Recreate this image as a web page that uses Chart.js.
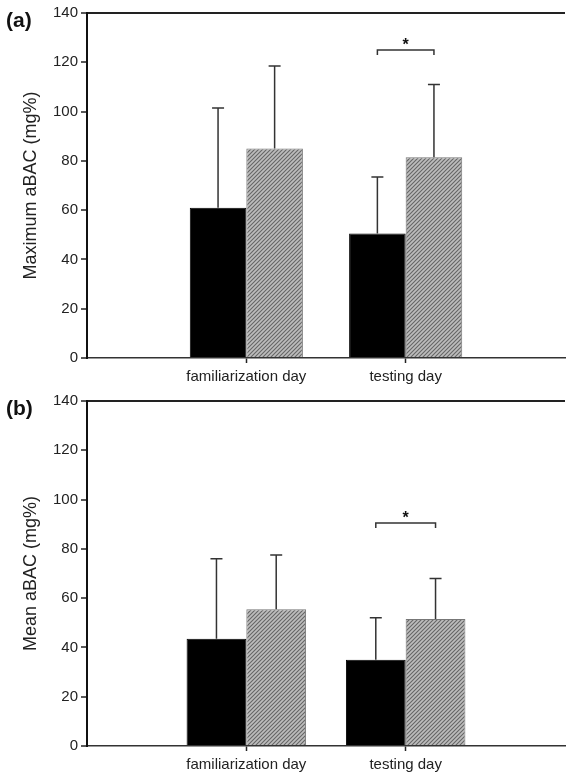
<!DOCTYPE html>
<html>
<head>
<meta charset="utf-8">
<title>aBAC</title>
<script src="https://cdn.jsdelivr.net/npm/chart.js@4.4.0/dist/chart.umd.min.js"></script>
<style>
  body { margin: 0; background: #fff; overflow: hidden; width: 566px; height: 775px; }
  canvas { display: block; }
</style>
</head>
<body>
<canvas id="chartA" width="570" height="389"></canvas>
<canvas id="chartB" width="570" height="386"></canvas>
<script>
// empty slots at both ends keep the two days in the middle of the axis
const categories = ['', 'familiarization day', 'testing day', ''];

// (a) maximum aBAC, mean and SD
const maxBlack = [null, 61, 50.5, null];
const maxBlackSd = [null, 40.5, 23, null];
const maxHatched = [null, 85, 81.5, null];
const maxHatchedSd = [null, 33.5, 29.5, null];
const maxBracket = 125;

// (b) mean aBAC, mean and SD
const meanBlack = [null, 43.5, 35, null];
const meanBlackSd = [null, 32.5, 17, null];
const meanHatched = [null, 55.5, 51.5, null];
const meanHatchedSd = [null, 22, 16.5, null];
const meanBracket = 90.5;

const FONT = "'Liberation Sans', Arial, sans-serif";

// grey diagonal hatch for the second group
function makeHatch() {
  const c = document.createElement('canvas');
  c.width = 4; c.height = 4;
  const g = c.getContext('2d');
  g.fillStyle = '#bdbdbd';
  g.fillRect(0, 0, 4, 4);
  g.strokeStyle = '#666';
  g.lineWidth = 1.1;
  g.beginPath();
  g.moveTo(0, 4); g.lineTo(4, 0);
  g.moveTo(-1, 1); g.lineTo(1, -1);
  g.moveTo(3, 5); g.lineTo(5, 3);
  g.stroke();
  return g.createPattern(c, 'repeat');
}
const hatch = makeHatch();

// one-sided SD whiskers above each bar
const errorBars = {
  id: 'errorBars',
  afterDatasetsDraw(chart) {
    const ctx = chart.ctx;
    const y = chart.scales.y;
    ctx.save();
    ctx.strokeStyle = '#333';
    ctx.lineWidth = 1.5;
    chart.data.datasets.forEach((ds, di) => {
      chart.getDatasetMeta(di).data.forEach((bar, i) => {
        if (ds.data[i] == null || ds.sd[i] == null) return;
        const top = y.getPixelForValue(ds.data[i] + ds.sd[i]);
        ctx.beginPath();
        ctx.moveTo(bar.x, bar.y);
        ctx.lineTo(bar.x, top);
        ctx.moveTo(bar.x - 6, top);
        ctx.lineTo(bar.x + 6, top);
        ctx.stroke();
      });
    });
    ctx.restore();
  }
};

// significance bracket between the two bars of one day, plus panel letter
const extras = {
  id: 'extras',
  afterDraw(chart, args, opts) {
    const ctx = chart.ctx;
    const x0 = chart.getDatasetMeta(0).data[opts.index].x;
    const x1 = chart.getDatasetMeta(1).data[opts.index].x;
    const yb = chart.scales.y.getPixelForValue(opts.value);
    ctx.save();
    ctx.strokeStyle = '#333';
    ctx.lineWidth = 1.5;
    ctx.beginPath();
    ctx.moveTo(x0, yb + 5);
    ctx.lineTo(x0, yb);
    ctx.lineTo(x1, yb);
    ctx.lineTo(x1, yb + 5);
    ctx.stroke();
    ctx.fillStyle = '#111';
    ctx.font = 'bold 16px ' + FONT;
    ctx.textAlign = 'center';
    ctx.textBaseline = 'middle';
    ctx.fillText('*', (x0 + x1) / 2, yb - 4);
    ctx.font = 'bold 21px ' + FONT;
    ctx.textAlign = 'left';
    ctx.fillText(opts.label, 6, opts.labelY);
    ctx.restore();
  }
};

function makeChart(id, black, blackSd, hatched, hatchedSd, yTitle, bracket, label, padTop, padBottom, labelY, catPct) {
  const ctx = document.getElementById(id).getContext('2d');
  return new Chart(ctx, {
    type: 'bar',
    data: {
      labels: categories,
      datasets: [
        { data: black, sd: blackSd, backgroundColor: '#000', borderColor: '#000', borderWidth: 1 },
        { data: hatched, sd: hatchedSd, backgroundColor: hatch, borderColor: '#777', borderWidth: 1 }
      ]
    },
    options: {
      responsive: false,
      animation: false,
      layout: { padding: { top: padTop, bottom: padBottom, left: 0, right: 0 } },
      datasets: { bar: { barPercentage: 1, categoryPercentage: catPct } },
      plugins: {
        legend: { display: false },
        tooltip: { enabled: false },
        extras: { index: 2, value: bracket, label: label, labelY: labelY }
      },
      scales: {
        x: {
          offset: false,
          afterFit: (s) => { s.height = 28; },
          border: { color: '#333', width: 1.5 },
          grid: {
            offset: false,
            drawOnChartArea: false,
            tickLength: 5,
            tickWidth: 1.5,
            tickColor: (c) => (c.index === 1 || c.index === 2) ? '#222' : 'rgba(0,0,0,0)'
          },
          ticks: { autoSkip: false, maxRotation: 0, padding: 5, color: '#222', font: { family: FONT, size: 15 } }
        },
        y: {
          min: 0,
          max: 140,
          afterFit: (s) => { s.width = 87; },
          border: { color: '#111', width: 2 },
          grid: {
            drawOnChartArea: true,
            color: (c) => c.tick && c.tick.value === 140 ? '#222' : 'rgba(0,0,0,0)',
            lineWidth: 2,
            tickLength: 6,
            tickWidth: 1.5,
            tickColor: '#222'
          },
          ticks: { stepSize: 20, padding: 3, color: '#222', font: { family: FONT, size: 15 } },
          title: { display: true, text: yTitle, color: '#222', padding: { top: 20, bottom: 0 }, font: { family: FONT, size: 18 } }
        }
      }
    },
    plugins: [errorBars, extras]
  });
}

makeChart('chartA', maxBlack, maxBlackSd, maxHatched, maxHatchedSd, 'Maximum aBAC (mg%)', maxBracket, '(a)', 13, 3, 21, 0.71);
makeChart('chartB', meanBlack, meanBlackSd, meanHatched, meanHatchedSd, 'Mean aBAC (mg%)', meanBracket, '(b)', 11.7, 1, 20, 0.75);
</script>
</body>
</html>
